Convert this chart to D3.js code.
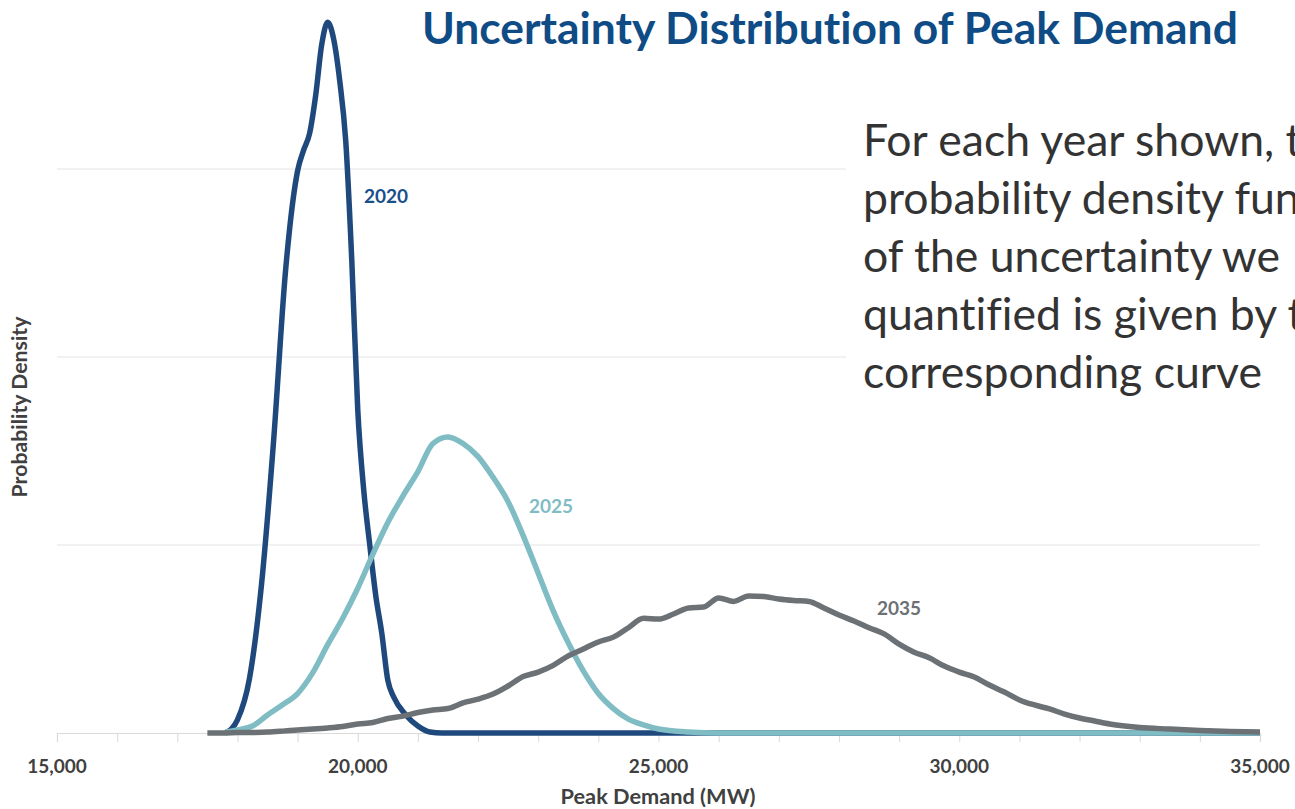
<!DOCTYPE html>
<html>
<head>
<meta charset="utf-8">
<script src="https://cdn.jsdelivr.net/npm/d3@7"></script>
<style>
  html, body { margin: 0; padding: 0; background: #ffffff; overflow: hidden; }
  svg { display: block; }
  text { font-variant-ligatures: none; font-feature-settings: "liga" 0, "clig" 0; }
</style>
</head>
<body>
<svg id="chart" width="1295" height="809"></svg>
<script>
// ---------------- DATA ----------------
const seriesNames = ["2020", "2025", "2035"];

const demand2020  = [17800, 18000, 18200, 18400, 18600, 18800, 19000, 19100, 19200, 19300, 19400, 19500, 19600, 19700, 19800, 19900, 20000, 20100, 20200, 20300, 20400, 20500, 20600, 20800, 21000, 21200, 21400, 35000];
const density2020 = [0.0, 0.07, 0.29, 0.79, 1.55, 2.46, 2.99, 3.10, 3.19, 3.39, 3.66, 3.78, 3.69, 3.47, 3.15, 2.52, 1.72, 1.29, 1.00, 0.73, 0.53, 0.28, 0.19, 0.096, 0.037, 0.005, 0.0, 0.0];

const demand2025  = [17800, 18000, 18250, 18500, 18750, 19000, 19250, 19500, 19750, 20000, 20250, 20500, 20750, 21000, 21250, 21500, 21750, 22000, 22250, 22500, 22750, 23000, 23250, 23500, 23750, 24000, 24250, 24500, 24750, 25000, 25500, 26000, 35000];
const density2025 = [0.005, 0.016, 0.037, 0.096, 0.15, 0.21, 0.32, 0.47, 0.61, 0.77, 0.95, 1.12, 1.26, 1.39, 1.54, 1.575, 1.54, 1.47, 1.36, 1.23, 1.05, 0.85, 0.65, 0.48, 0.33, 0.21, 0.13, 0.074, 0.043, 0.021, 0.005, 0.0, 0.0];

const demand2035  = [17500, 17750, 18000, 18250, 18500, 18750, 19000, 19250, 19500, 19750, 20000, 20250, 20500, 20750, 21000, 21250, 21500, 21750, 22000, 22250, 22500, 22750, 23000, 23250, 23500, 23750, 24000, 24250, 24500, 24750, 25000, 25250, 25500, 25750, 26000, 26250, 26500, 26750, 27000, 27250, 27500, 27750, 28000, 28250, 28500, 28750, 29000, 29250, 29500, 29750, 30000, 30250, 30500, 30750, 31000, 31250, 31500, 31750, 32000, 32250, 32500, 32750, 33000, 33500, 34000, 34500, 35000];
const density2035 = [0.0, 0.0, 0.002, 0.003, 0.005, 0.01, 0.016, 0.021, 0.027, 0.035, 0.048, 0.056, 0.077, 0.09, 0.109, 0.122, 0.13, 0.16, 0.18, 0.207, 0.25, 0.30, 0.324, 0.36, 0.41, 0.447, 0.484, 0.51, 0.56, 0.61, 0.606, 0.633, 0.665, 0.67, 0.718, 0.70, 0.729, 0.726, 0.713, 0.705, 0.70, 0.665, 0.628, 0.596, 0.56, 0.527, 0.473, 0.43, 0.40, 0.356, 0.324, 0.298, 0.255, 0.218, 0.176, 0.149, 0.128, 0.101, 0.08, 0.064, 0.048, 0.037, 0.029, 0.021, 0.013, 0.008, 0.005];

const xTickValues = [15000, 20000, 25000, 30000, 35000];
const xMinorTicks = d3.range(15000, 35001, 1000);
const gridValues  = [1, 2, 3];

// label anchor positions in data units (MW, density)
const labelDemand  = [20104, 22847, 28633];
const labelDensity = [2.82, 1.17, 0.63];

const titleText  = "Uncertainty Distribution of Peak Demand";
const xAxisTitle = "Peak Demand (MW)";
const yAxisTitle = "Probability Density";
const noteLines  = ["For each year shown, the", "probability density function", "of the uncertainty we", "quantified is given by the", "corresponding curve"];

// ---------------- STYLE ----------------
const colors = { "2020": "#1f497d", "2025": "#7fbcc4", "2035": "#6b7175" };
const labelColors = { "2020": "#18508a", "2025": "#7fbcc4", "2035": "#6b7175" };
const FONT = "Lato, 'Open Sans', sans-serif";

const svg = d3.select("#chart");

const x = d3.scaleLinear().domain([15000, 35000]).range([57, 1260]);
const y = d3.scaleLinear().domain([0, 4]).range([733, 733 - 4 * 188]);

function fitText(sel, targetWidth) {
  const node = sel.node();
  const fs = parseFloat(sel.attr("font-size"));
  const w = node.getComputedTextLength();
  if (w > 0) sel.attr("font-size", (fs * targetWidth / w).toFixed(2));
  return sel;
}

// gridlines
svg.append("g").selectAll("line").data(gridValues).join("line")
  .attr("x1", x(15000)).attr("x2", x(35000))
  .attr("y1", d => y(d)).attr("y2", d => y(d))
  .attr("stroke", "#e4e4e4").attr("stroke-width", 1);

// x axis
const xAxis = d3.axisBottom(x).tickValues(xMinorTicks).tickSize(9).tickFormat("");
const gx = svg.append("g").attr("transform", `translate(0,${y(0)})`).call(xAxis);
gx.select(".domain").attr("stroke", "#d9d9d9").attr("stroke-width", 1.2);
gx.selectAll(".tick line").attr("stroke", "#d9d9d9");

const gxl = svg.append("g");
gxl.selectAll("text").data(xTickValues).join("text")
  .attr("x", d => x(d)).attr("y", 773)
  .attr("text-anchor", "middle")
  .attr("font-family", FONT).attr("font-weight", 700).attr("font-size", 19)
  .attr("fill", "#404040")
  .text(d => d3.format(",")(d));

// axis titles
fitText(svg.append("text")
  .attr("x", 658).attr("y", 804)
  .attr("text-anchor", "middle")
  .attr("font-family", FONT).attr("font-weight", 700).attr("font-size", 18)
  .attr("fill", "#404040").text(xAxisTitle), 195);

fitText(svg.append("text")
  .attr("transform", "translate(27,407) rotate(-90)")
  .attr("text-anchor", "middle")
  .attr("font-family", FONT).attr("font-weight", 700).attr("font-size", 17)
  .attr("fill", "#404040").text(yAxisTitle), 181);

// curves
const series = [
  { name: "2020", xs: demand2020, ys: density2020 },
  { name: "2025", xs: demand2025, ys: density2025 },
  { name: "2035", xs: demand2035, ys: density2035 }
];
const line = d3.line()
  .x(d => x(d[0])).y(d => y(d[1]))
  .curve(d3.curveMonotoneX);

svg.append("g").selectAll("path").data(series).join("path")
  .attr("d", s => line(s.xs.map((v, i) => [v, s.ys[i]])))
  .attr("fill", "none")
  .attr("stroke", s => colors[s.name])
  .attr("stroke-width", 5.5)
  .attr("stroke-linejoin", "round")
  .attr("stroke-linecap", "butt");

// series labels
svg.append("g").selectAll("text").data(seriesNames).join("text")
  .attr("x", (d, i) => x(labelDemand[i]))
  .attr("y", (d, i) => y(labelDensity[i]))
  .attr("font-family", FONT).attr("font-weight", 700).attr("font-size", 19)
  .attr("fill", d => labelColors[d])
  .text(d => d);

// title
fitText(svg.append("text")
  .attr("x", 422).attr("y", 44)
  .attr("font-family", FONT).attr("font-weight", 700).attr("font-size", 40)
  .attr("fill", "#0f4c86").text(titleText), 816);

// note box
svg.append("rect").attr("x", 846).attr("y", 105).attr("width", 460).attr("height", 300).attr("fill", "#ffffff");
const note = svg.append("g");
const probe = note.append("text").attr("font-family", FONT).attr("font-size", 44).text(noteLines[4]);
const pw = probe.node().getComputedTextLength();
const noteSize = 44 * 399 / pw;
probe.remove();
note.selectAll("text").data(noteLines).join("text")
  .attr("x", 863).attr("y", (d, i) => 156 + i * 58)
  .attr("font-family", FONT).attr("font-size", noteSize.toFixed(2))
  .attr("fill", "#333333")
  .text(d => d);
</script>
</body>
</html>
